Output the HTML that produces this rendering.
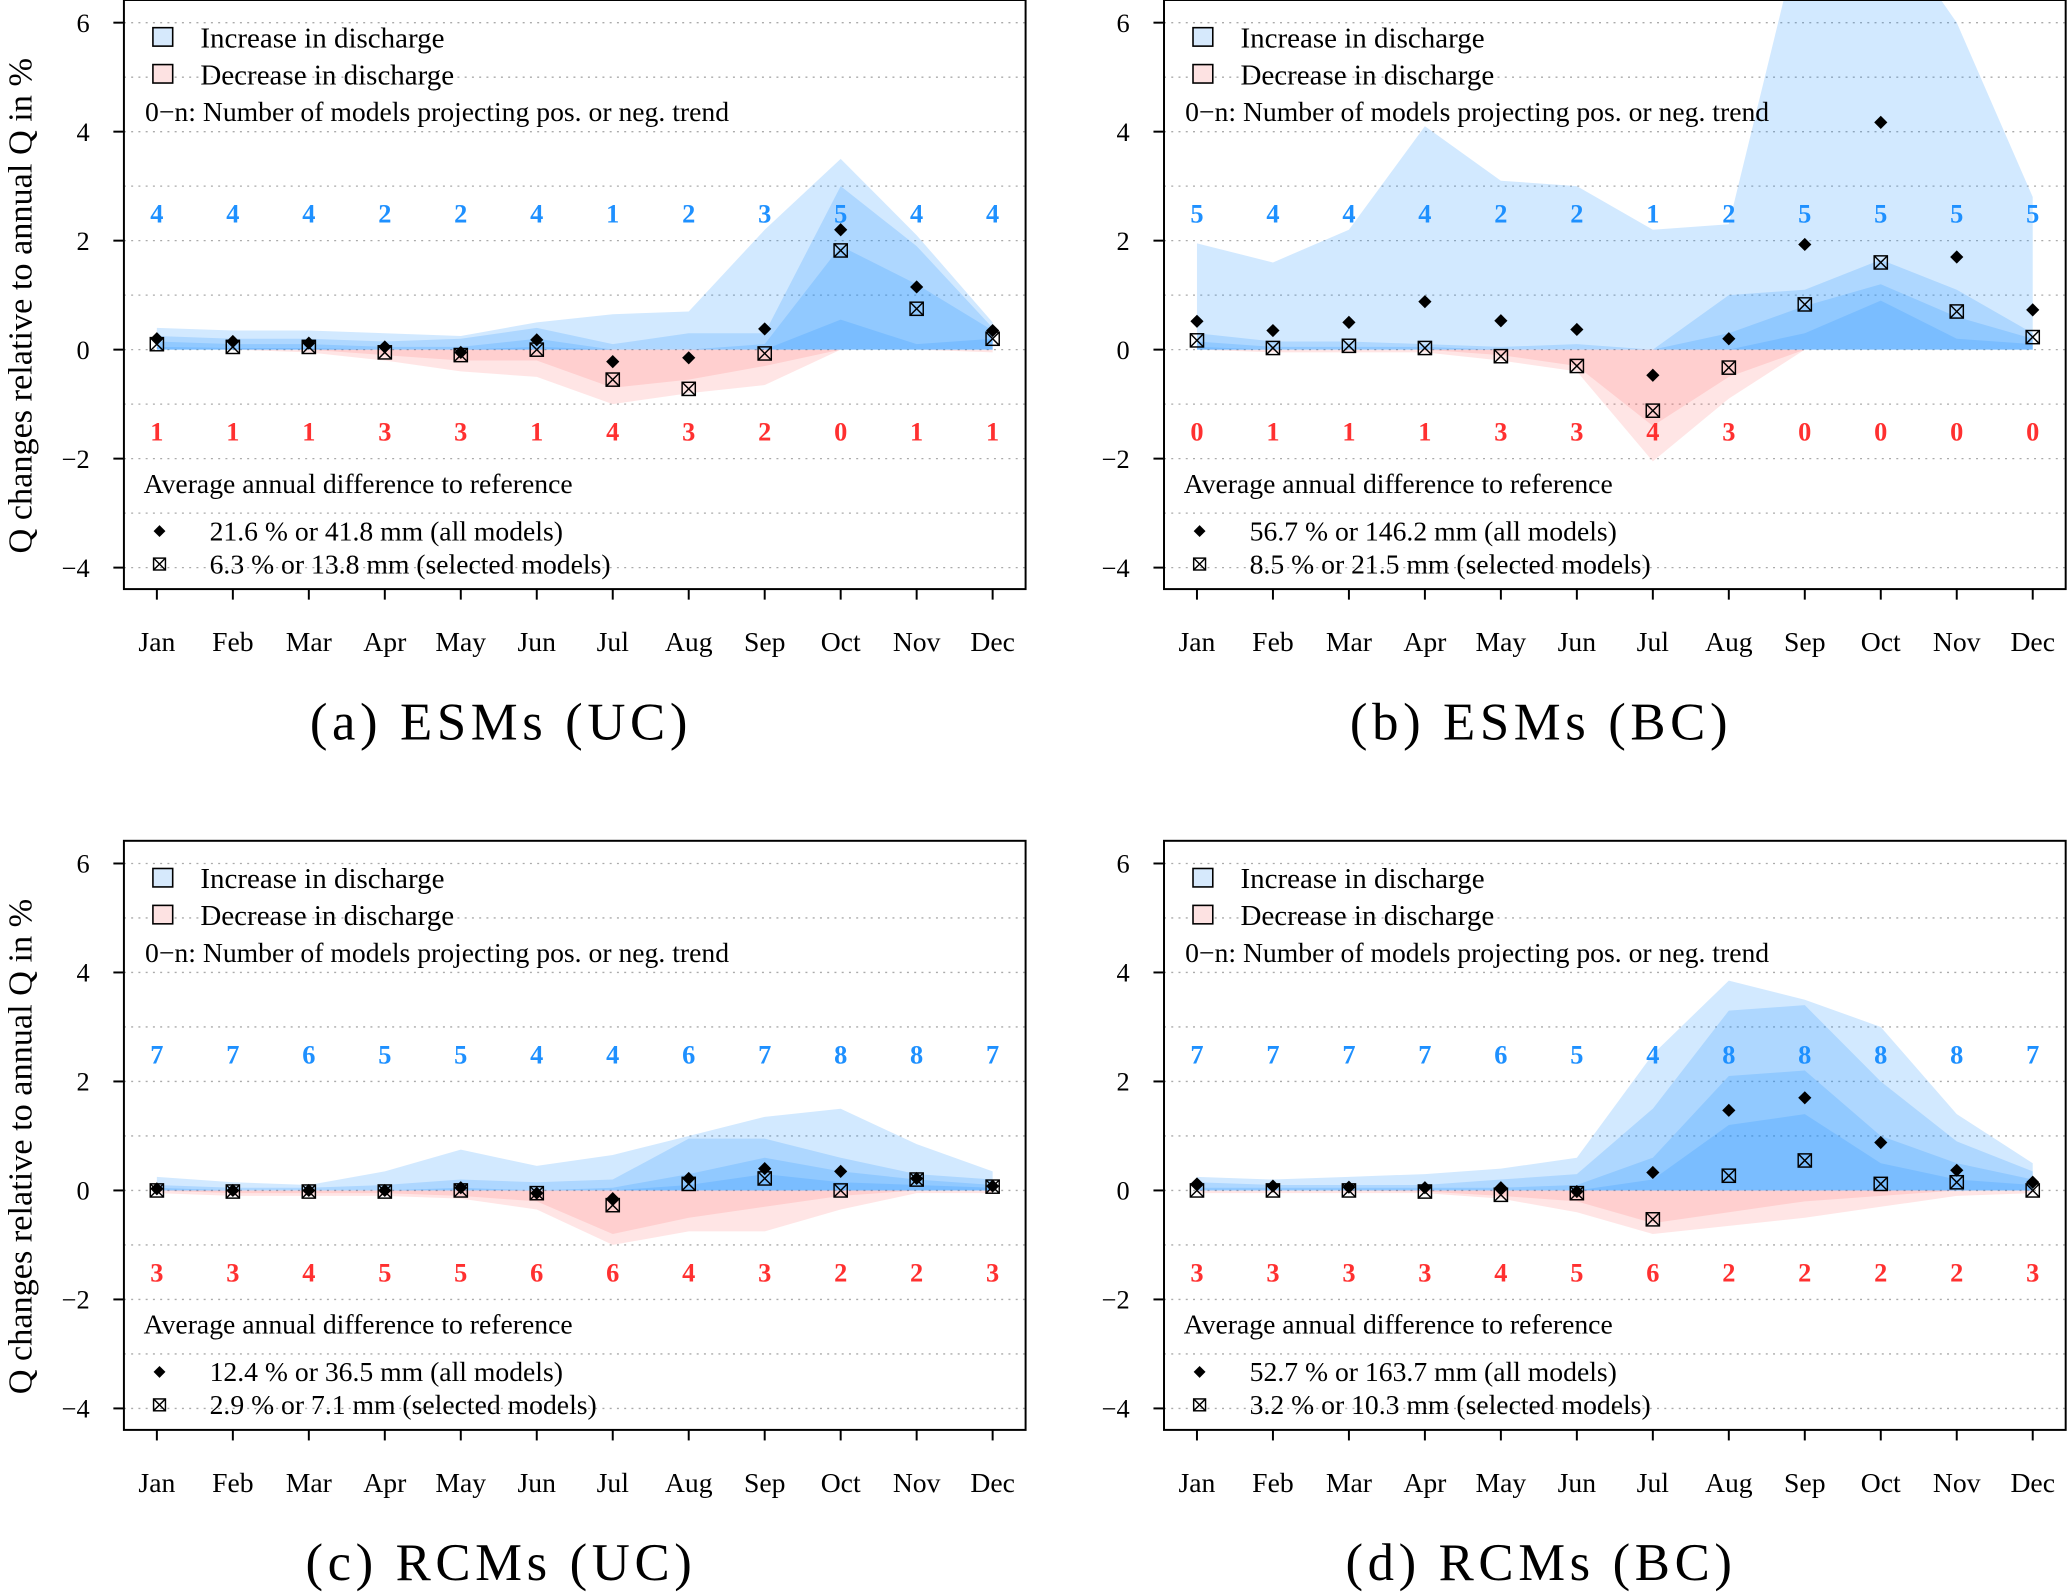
<!DOCTYPE html>
<html><head><meta charset="utf-8"><style>
html,body{margin:0;padding:0;background:#fff;}
svg{display:block;}
text{font-family:"Liberation Serif",serif;}
</style></head><body>
<svg id="chart" width="2067" height="1592" viewBox="0 0 1568 1208" preserveAspectRatio="none" xmlns="http://www.w3.org/2000/svg"></svg>
<script>
const months=["Jan","Feb","Mar","Apr","May","Jun","Jul","Aug","Sep","Oct","Nov","Dec"];
const yTicks=[-4,-2,0,2,4,6];
const gridVals=[-4,-3,-2,-1,0,1,2,3,4,5,6];
const titles=["(a)  ESMs  (UC)","(b)  ESMs  (BC)","(c)  RCMs  (UC)","(d)  RCMs  (BC)"];
const allText=["21.6 % or 41.8 mm (all models)","56.7 % or 146.2 mm (all models)","12.4 % or 36.5 mm (all models)","52.7 % or 163.7 mm (all models)"];
const selText=["6.3 % or 13.8 mm (selected models)","8.5 % or 21.5 mm (selected models)","2.9 % or 7.1 mm (selected models)","3.2 % or 10.3 mm (selected models)"];
// panel a
const aPosOuter=[.4,.35,.35,.3,.25,.5,.65,.7,2.2,3.5,2.1,.5];
const aPosMid=[.25,.2,.2,.15,.2,.4,.1,.3,.3,3.0,1.9,.4];
const aPosInner=[.15,.1,.1,.05,.05,.2,0,0,.1,1.9,1.2,.35];
const aPosCore=[.05,.03,.03,0,0,.05,0,0,0,.55,.1,.2];
const aNegOuter=[0,0,-.05,-.2,-.4,-.5,-1.0,-.8,-.65,0,0,0];
const aNegMid=[0,0,0,-.1,-.2,-.2,-.7,-.55,-.3,0,0,-.05];
const aAll=[.2,.15,.12,.05,-.05,.18,-.22,-.15,.38,2.2,1.15,.35];
const aSel=[.1,.05,.05,-.05,-.1,0,-.55,-.72,-.07,1.82,.75,.2];
const aPosN=[4,4,4,2,2,4,1,2,3,5,4,4];
const aNegN=[1,1,1,3,3,1,4,3,2,0,1,1];
// panel b
const bPosOuter=[1.95,1.6,2.2,4.1,3.1,3.0,2.2,2.3,8,8,6,2.8];
const bPosMid=[.3,.15,.15,.1,.05,.1,0,1.0,1.1,1.65,1.1,.3];
const bPosInner=[.15,.05,.05,.05,0,0,0,.3,.8,1.2,.6,.2];
const bPosCore=[.05,0,0,0,0,0,0,0,.3,.9,.2,.1];
const bNegOuter=[0,-.05,-.05,-.05,-.2,-.4,-2.05,-.9,0,0,0,0];
const bNegMid=[0,0,0,0,-.1,-.3,-1.4,-.5,0,0,0,0];
const bAll=[.52,.35,.5,.88,.53,.37,-.47,.2,1.93,4.17,1.7,.73];
const bSel=[.17,.03,.07,.03,-.12,-.3,-1.12,-.33,.83,1.6,.7,.23];
const bPosN=[5,4,4,4,2,2,1,2,5,5,5,5];
const bNegN=[0,1,1,1,3,3,4,3,0,0,0,0];
// panel c
const cPosOuter=[.25,.15,.1,.35,.75,.45,.65,1.0,1.35,1.5,.85,.35];
const cPosMid=[.1,.05,.05,.1,.2,.15,.2,.95,.95,.6,.3,.2];
const cPosInner=[.05,0,0,0,.05,0,.05,.3,.6,.35,.2,.1];
const cPosCore=[0,0,0,0,0,0,0,.1,.3,.15,.1,.05];
const cNegOuter=[-.05,-.1,-.1,-.1,-.15,-.35,-1.0,-.75,-.75,-.35,-.05,-.05];
const cNegMid=[0,-.05,-.05,-.05,-.1,-.2,-.8,-.5,-.3,-.1,0,0];
const cAll=[.03,0,0,0,.05,-.05,-.15,.22,.4,.35,.22,.08];
const cSel=[0,-.02,-.02,-.02,0,-.05,-.27,.12,.22,0,.2,.07];
const cPosN=[7,7,6,5,5,4,4,6,7,8,8,7];
const cNegN=[3,3,4,5,5,6,6,4,3,2,2,3];
// panel d
const dPosOuter=[.25,.2,.25,.3,.4,.6,2.5,3.85,3.5,3.0,1.4,.5];
const dPosMid=[.15,.1,.1,.1,.2,.3,1.5,3.3,3.4,2.0,.9,.35];
const dPosInner=[.05,.05,.05,.05,.05,.1,.6,2.1,2.2,1.0,.5,.2];
const dPosCore=[0,0,0,0,0,0,.2,1.2,1.4,.5,.2,.1];
const dNegOuter=[-.05,-.05,-.05,-.05,-.15,-.4,-.8,-.65,-.5,-.3,-.1,-.05];
const dNegMid=[0,0,0,-.02,-.1,-.2,-.6,-.4,-.2,-.1,0,0];
const dAll=[.12,.08,.06,.05,.05,-.02,.33,1.47,1.7,.88,.37,.15];
const dSel=[0,0,0,-.02,-.08,-.05,-.53,.27,.55,.12,.15,0];
const dPosN=[7,7,7,7,6,5,4,8,8,8,8,7];
const dNegN=[3,3,3,3,4,5,6,2,2,2,2,3];

const panels=[
 {ox:0,oy:0,pos:[aPosOuter,aPosMid,aPosInner,aPosCore],neg:[aNegOuter,aNegMid],all:aAll,sel:aSel,pn:aPosN,nn:aNegN,name:"panel-a"},
 {ox:789,oy:0,pos:[bPosOuter,bPosMid,bPosInner,bPosCore],neg:[bNegOuter,bNegMid],all:bAll,sel:bSel,pn:bPosN,nn:bNegN,name:"panel-b"},
 {ox:0,oy:638,pos:[cPosOuter,cPosMid,cPosInner,cPosCore],neg:[cNegOuter,cNegMid],all:cAll,sel:cSel,pn:cPosN,nn:cNegN,name:"panel-c"},
 {ox:789,oy:638,pos:[dPosOuter,dPosMid,dPosInner,dPosCore],neg:[dNegOuter,dNegMid],all:dAll,sel:dSel,pn:dPosN,nn:dNegN,name:"panel-d"}];

const svg=document.getElementById('chart');
const NS="http://www.w3.org/2000/svg";
function mk(tag,attrs,parent){const e=document.createElementNS(NS,tag);for(const k in attrs)e.setAttribute(k,attrs[k]);(parent||svg).appendChild(e);return e;}
function txt(s,attrs,parent){const e=mk('text',attrs,parent);e.textContent=s;return e;}

panels.forEach((p,pi)=>{
 const g=mk('g',{});
 
 
 const L=94+p.ox,R=778+p.ox,T=0+p.oy,B=447+p.oy;
 const xS=i=>119+p.ox+i*(634/11);
 const yS=v=>265.3+p.oy-v*41.35;
 const cid='clip'+pi;
 const cp=mk('clipPath',{id:cid},g);mk('rect',{x:L,y:T,width:R-L,height:B-T},cp);
 gridVals.forEach(v=>{const l=mk('line',{x1:L,x2:R,y1:yS(v),y2:yS(v),stroke:'#aaa','stroke-width':1,'stroke-dasharray':'1.5,4'},g);
  });
 const area=mk('g',{'clip-path':`url(#${cid})`},g);
 function band(arr,fill,nm){
  let d=`M${xS(0)},${yS(0)} `;arr.forEach((v,i)=>d+=`L${xS(i)},${yS(v)} `);d+=`L${xS(11)},${yS(0)} Z`;
  const e=mk('path',{d:d,fill:fill},area);
  
 }
 p.neg.forEach((a,k)=>band(a,'rgba(255,80,80,0.15)','decrease-band'));
 p.pos.forEach((a,k)=>band(a,'rgba(30,144,255,0.2)','increase-band'));
 const bx=mk('rect',{x:L,y:T,width:R-L,height:B-T,fill:'none',stroke:'#000','stroke-width':1.5},g);
 
 yTicks.forEach(v=>{mk('line',{x1:L-8,x2:L,y1:yS(v),y2:yS(v),stroke:'#000','stroke-width':1.5},g);
  const t=txt(v<0?'\u2212'+(-v):String(v),{x:L-26,y:yS(v)+7,'font-size':20,'text-anchor':'end'},g);
  });
 months.forEach((m,i)=>{mk('line',{x1:xS(i),x2:xS(i),y1:B,y2:B+8,stroke:'#000','stroke-width':1.5},g);
  const t=txt(m,{x:xS(i),y:B+47,'font-size':21,'text-anchor':'middle'},g);
  });
 p.pn.forEach((n,i)=>{const t=txt(String(n),{x:xS(i),y:yS(2.5)+7,'font-size':20,'font-weight':'bold',fill:'#1e90ff','text-anchor':'middle'},g);
  });
 p.nn.forEach((n,i)=>{const t=txt(String(n),{x:xS(i),y:yS(-1.5)+7,'font-size':20,'font-weight':'bold',fill:'#ff3030','text-anchor':'middle'},g);
  });
 function diamond(x,y,s,parent){const e=mk('path',{d:`M${x},${y-s} L${x+s},${y} L${x},${y+s} L${x-s},${y} Z`,fill:'#000'},parent);return e;}
 function xbox(x,y,s,parent){const gg=mk('g',{stroke:'#000','stroke-width':1.1,fill:'none'},parent);
  mk('rect',{x:x-s,y:y-s,width:2*s,height:2*s},gg);mk('line',{x1:x-s,y1:y-s,x2:x+s,y2:y+s},gg);mk('line',{x1:x+s,y1:y-s,x2:x-s,y2:y+s},gg);return gg;}
 p.sel.forEach((v,i)=>{const e=xbox(xS(i),yS(v),5,g);});
 p.all.forEach((v,i)=>{const e=diamond(xS(i),yS(v),5,g);});
 const lg=mk('g',{},g);
 mk('rect',{x:L+22,y:T+21,width:15,height:14,fill:'#d6e9fc',stroke:'#000','stroke-width':1.2},lg);
 txt('Increase in discharge',{x:L+58,y:T+36,'font-size':22},lg);
 mk('rect',{x:L+22,y:T+49,width:15,height:14,fill:'#fde2e2',stroke:'#000','stroke-width':1.2},lg);
 txt('Decrease in discharge',{x:L+58,y:T+64,'font-size':22},lg);
 txt('0\u2212n: Number of models projecting pos. or neg. trend',{x:L+16,y:T+92,'font-size':21},lg);
 const ag=mk('g',{},g);
 txt('Average annual difference to reference',{x:L+15,y:T+374,'font-size':21},ag);
 diamond(L+27,T+403,4.5,ag);
 txt(allText[pi],{x:L+65,y:T+410,'font-size':21},ag);
 xbox(L+27,T+428,4.5,ag);
 txt(selText[pi],{x:L+65,y:T+435,'font-size':21},ag);
 const tt=txt(titles[pi],{x:(L+R)/2-56,y:B+114,'font-size':40,'text-anchor':'middle','letter-spacing':3.5,'xml:space':'preserve'},g);
 
 if(p.ox===0){const yt=txt('Q changes relative to annual Q in %',{x:0,y:0,'font-size':26,'text-anchor':'middle',transform:`translate(24,${T+232}) rotate(-90)`},g);
  }
});
</script>
</body></html>
